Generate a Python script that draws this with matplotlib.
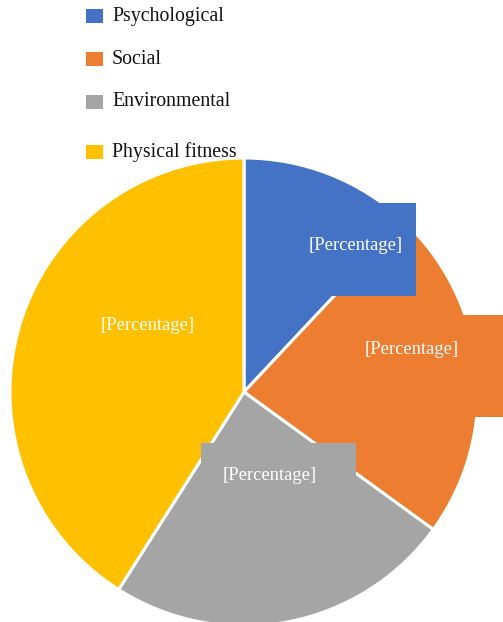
import matplotlib
matplotlib.use("Agg")
import matplotlib.pyplot as plt
from matplotlib.patches import Rectangle

categories = ["Psychological", "Social", "Environmental", "Physical fitness"]
shares = [12, 23, 24, 41]
colors = ["#4472C4", "#ED7D31", "#A5A5A5", "#FFC000"]
label_text = "[Percentage]"

W, H = 503, 622
CX, CY, R = 244, 392, 234  # pie centre / radius in pixels (y from top)

fig = plt.figure(figsize=(W / 100, H / 100), dpi=100)
ax = fig.add_axes([0, 0, 1, 1])
ax.pie(shares, colors=colors, startangle=90, counterclock=False, radius=1,
       wedgeprops=dict(edgecolor="white", linewidth=2.2))
ax.set_xlim((0 - CX) / R, (W - CX) / R)
ax.set_ylim((CY - H) / R, CY / R)
ax.set_aspect("auto")
ax.axis("off")


def to_data(px, py):
    return (px - CX) / R, (CY - py) / R


# label callouts: text centre and box (left, top, right, bottom) in pixels
label_pos = [(356, 246), (412, 350), (270, 475), (148, 326)]
label_box = [(298, 203, 416, 296), (322, 315, 506, 417),
             (201, 443, 356, 510), (95, 290, 200, 362)]

for i, col in enumerate(colors):
    l, t, r, b = label_box[i]
    x0, y1 = to_data(l, t)
    x1, y0 = to_data(r, b)
    ax.add_patch(Rectangle((x0, y0), x1 - x0, y1 - y0, facecolor=col,
                           edgecolor="none", zorder=3))
    tx, ty = to_data(*label_pos[i])
    ax.text(tx, ty, label_text, color="white", ha="center", va="center",
            fontsize=13.4, family="Liberation Serif", zorder=4)

# legend
leg_y = [16, 59, 102, 152]
for i, cat in enumerate(categories):
    y = leg_y[i]
    fig.patches.append(Rectangle((86 / W, 1 - (y + 7) / H), 17 / W, 14 / H,
                                 facecolor=colors[i], edgecolor="none",
                                 transform=fig.transFigure, figure=fig))
    fig.text(112 / W, 1 - y / H, cat, ha="left", va="center",
             fontsize=14.3, family="Liberation Serif", color="#111111")

fig.savefig("out.png", dpi=100)
